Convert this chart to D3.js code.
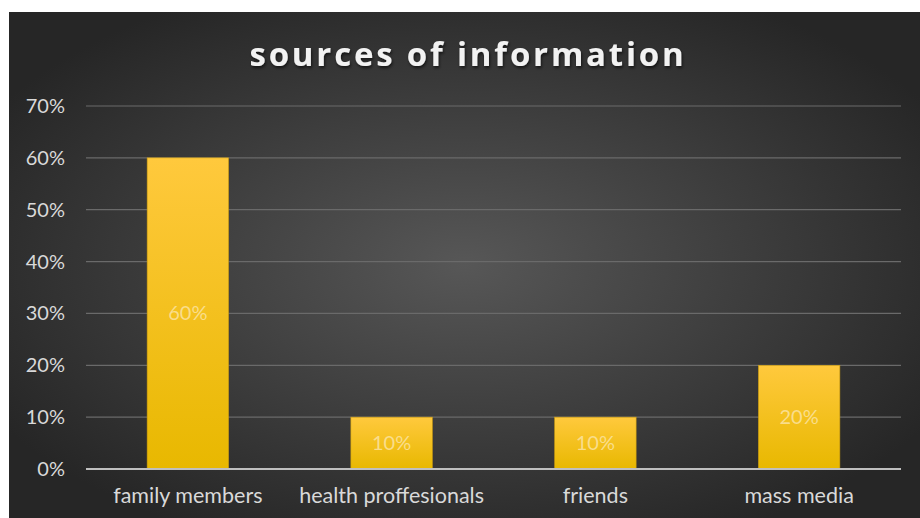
<!DOCTYPE html>
<html>
<head>
<meta charset="utf-8">
<script src="https://cdn.jsdelivr.net/npm/d3@7"></script>
<style>
  body { margin: 0; background: #fff; }
  svg { display: block; }
</style>
</head>
<body>
<svg></svg>
<script>
// chart data
const categories = ["family members", "health proffesionals", "friends", "mass media"];
const values = [0.60, 0.10, 0.10, 0.20];
const yTicks = [0, 0.1, 0.2, 0.3, 0.4, 0.5, 0.6, 0.7];
const title = "sources of information";

const width = 920;
const height = 518;
const margin = { top: 106, right: 19, bottom: 49, left: 86 };

const svg = d3.select("svg")
    .attr("width", width)
    .attr("height", height);

const defs = svg.append("defs");

// background radial gradient
const bg = defs.append("radialGradient")
    .attr("id", "bg")
    .attr("cx", "50%").attr("cy", "50%").attr("r", "60%");
bg.append("stop").attr("offset", "0%").attr("stop-color", "#575757");
bg.append("stop").attr("offset", "100%").attr("stop-color", "#262626");

// bar gradient
const barGrad = defs.append("linearGradient")
    .attr("id", "barGrad")
    .attr("x1", 0).attr("y1", 0).attr("x2", 0).attr("y2", 1);
barGrad.append("stop").attr("offset", "0%").attr("stop-color", "#ffc93d");
barGrad.append("stop").attr("offset", "100%").attr("stop-color", "#e8b800");

const shadow = defs.append("filter").attr("id", "shadow")
    .attr("x", "-10%").attr("y", "-30%").attr("width", "120%").attr("height", "160%");
shadow.append("feDropShadow")
    .attr("dx", 1).attr("dy", 2).attr("stdDeviation", 1.5)
    .attr("flood-color", "#000").attr("flood-opacity", 0.6);

svg.append("rect")
    .attr("x", 9).attr("y", 12)
    .attr("width", width - 9).attr("height", height - 12)
    .attr("fill", "url(#bg)");

const x = d3.scaleBand()
    .domain(categories)
    .range([margin.left, width - margin.right])
    .paddingInner(0.6)
    .paddingOuter(0.3);

const y = d3.scaleLinear()
    .domain([0, 0.7])
    .range([height - margin.bottom, margin.top]);

const font = "Lato, 'Open Sans', sans-serif";

// gridlines
svg.append("g")
    .selectAll("line")
    .data(yTicks.filter(d => d > 0))
    .enter().append("line")
    .attr("x1", margin.left)
    .attr("x2", width - margin.right)
    .attr("y1", d => y(d))
    .attr("y2", d => y(d))
    .attr("stroke", "#6a6a6a")
    .attr("stroke-width", 1.2);

// y axis labels
svg.append("g")
    .selectAll("text")
    .data(yTicks)
    .enter().append("text")
    .attr("x", 65)
    .attr("y", d => y(d))
    .attr("dy", "0.35em")
    .attr("text-anchor", "end")
    .attr("fill", "#d9d9d9")
    .style("font-family", font)
    .style("font-size", "20px")
    .text(d3.format(".0%"));

// bars
svg.append("g")
    .selectAll("rect")
    .data(values)
    .enter().append("rect")
    .attr("x", (d, i) => x(categories[i]))
    .attr("y", d => y(d))
    .attr("width", x.bandwidth())
    .attr("height", d => y(0) - y(d))
    .attr("fill", "url(#barGrad)")
    .attr("stroke", "#c99a10")
    .attr("stroke-width", 0.6);

// baseline
svg.append("line")
    .attr("x1", margin.left)
    .attr("x2", width - margin.right)
    .attr("y1", y(0))
    .attr("y2", y(0))
    .attr("stroke", "#bfbfbf")
    .attr("stroke-width", 2);

// value labels
svg.append("g")
    .selectAll("text")
    .data(values)
    .enter().append("text")
    .attr("x", (d, i) => x(categories[i]) + x.bandwidth() / 2)
    .attr("y", d => (y(d) + y(0)) / 2)
    .attr("dy", "0.35em")
    .attr("text-anchor", "middle")
    .attr("fill", "#fbe3a0")
    .attr("fill-opacity", 0.85)
    .style("font-family", font)
    .style("font-size", "20px")
    .text(d3.format(".0%"));

// category labels
svg.append("g")
    .selectAll("text")
    .data(categories)
    .enter().append("text")
    .attr("x", d => x(d) + x.bandwidth() / 2)
    .attr("y", 503)
    .attr("text-anchor", "middle")
    .attr("fill", "#d9d9d9")
    .style("font-family", font)
    .style("font-size", "21.5px")
    .text(d => d);

// title
svg.append("text")
    .attr("x", 468)
    .attr("y", 66)
    .attr("text-anchor", "middle")
    .attr("fill", "#f2f2f2")
    .attr("filter", "url(#shadow)")
    .style("font-family", "'Open Sans', sans-serif")
    .style("font-weight", "bold")
    .style("font-size", "33px")
    .style("letter-spacing", "2.8px")
    .text(title);
</script>
</body>
</html>
